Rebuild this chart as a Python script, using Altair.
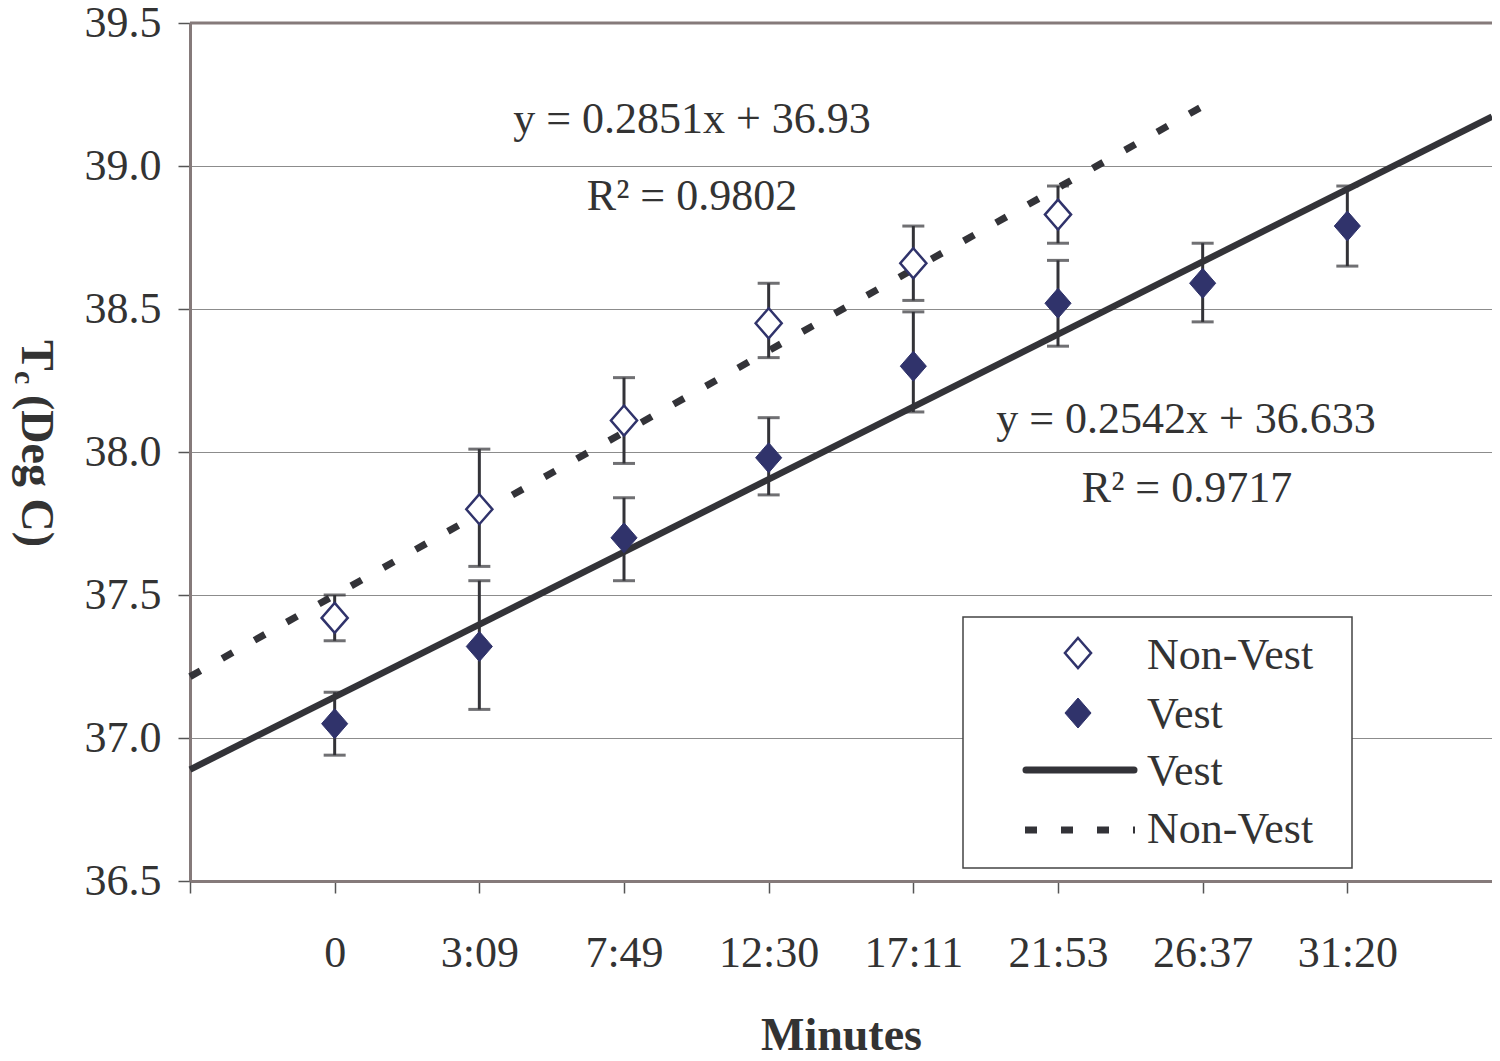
import json
import altair as alt
import pandas as pd

# ---- data ----
time_labels = ["0", "3:09", "7:49", "12:30", "17:11", "21:53", "26:37", "31:20"]

nonvest_mean = [37.42, 37.80, 38.11, 38.45, 38.66, 38.83]
nonvest_low = [37.34, 37.60, 37.96, 38.33, 38.53, 38.73]
nonvest_high = [37.50, 38.01, 38.26, 38.59, 38.79, 38.93]

vest_mean = [37.05, 37.32, 37.70, 37.98, 38.30, 38.52, 38.59, 38.79]
vest_low = [36.94, 37.10, 37.55, 37.85, 38.14, 38.37, 38.455, 38.65]
vest_high = [37.16, 37.55, 37.84, 38.12, 38.49, 38.67, 38.73, 38.93]

eq_nonvest = ["y = 0.2851x + 36.93", "R² = 0.9802"]
eq_vest = ["y = 0.2542x + 36.633", "R² = 0.9717"]

legend_labels = ["Non-Vest", "Vest", "Vest", "Non-Vest"]
y_ticks = [36.5, 37.0, 37.5, 38.0, 38.5, 39.0, 39.5]

# category axis: an empty first category, then the time labels
axis_labels = [""] + time_labels

nv = pd.DataFrame({
    "idx": list(range(2, 2 + len(nonvest_mean))),
    "time": time_labels[:len(nonvest_mean)],
    "mean": nonvest_mean, "low": nonvest_low, "high": nonvest_high,
})
vs = pd.DataFrame({
    "idx": list(range(2, 2 + len(vest_mean))),
    "time": time_labels[:len(vest_mean)],
    "mean": vest_mean, "low": vest_low, "high": vest_high,
})

W, H = 1302, 858
FONT = "Liberation Serif"
TXT = "#333333"
NAVY = "#30336b"
LINE = "#333338"
AXIS_COL = "#857a7a"

x_scale = alt.Scale(domain=[1, len(axis_labels) + 1], nice=False, zero=False)
y_scale = alt.Scale(domain=[36.5, 39.5], nice=False, zero=False)

x_axis = alt.Axis(
    values=list(range(1, len(axis_labels) + 1)),
    labelExpr=json.dumps(axis_labels) + "[datum.value - 1]",
    grid=False, tickSize=12, tickColor="#555555", tickWidth=1.5,
    domainColor=AXIS_COL, domainWidth=3,
    labelFont=FONT, labelFontSize=44, labelColor=TXT, labelPadding=38,
    labelFlush=False, labelOverlap=False,
    title="Minutes", titleFont=FONT, titleFontSize=46, titleFontWeight="bold",
    titleColor=TXT, titleY=168, titleBaseline="alphabetic",
)
y_axis = alt.Axis(
    values=y_ticks, format=".1f", grid=True, gridColor="#8c8c8c", gridWidth=1,
    tickSize=12, tickColor="#555555", tickWidth=1.5,
    domainColor=AXIS_COL, domainWidth=3,
    labelFont=FONT, labelFontSize=44, labelColor=TXT, labelPadding=17,
    labelFlush=False, labelOverlap=False, title=None,
)


def X(field="idx"):
    return alt.X(f"{field}:Q", scale=x_scale, axis=x_axis)


def Y(field):
    return alt.Y(f"{field}:Q", scale=y_scale, axis=y_axis)


one = pd.DataFrame({"k": [0]})

top_rule = alt.Chart(one).mark_rule(color=AXIS_COL, strokeWidth=3).encode(
    x=alt.value(0), x2=alt.value(W), y=alt.value(0))

layers = [top_rule]

# error bars
for df in (nv, vs):
    layers.append(alt.Chart(df).mark_rule(color=LINE, strokeWidth=3).encode(
        x=X(), y=Y("low"), y2="high"))
    for f in ("low", "high"):
        layers.append(alt.Chart(df).mark_tick(
            orient="horizontal", size=22, thickness=3, color=LINE).encode(
            x=X(), y=Y(f)))

# trend lines (linear regression computed by Vega-Lite)
nv_trend = alt.Chart(nv).transform_regression(
    "idx", "mean", extent=[1, int(nv["idx"].max()) + 1]
).mark_line(color=LINE, strokeWidth=7, strokeDash=[12, 25]).encode(
    x=X(), y=Y("mean"))
vs_trend = alt.Chart(vs).transform_regression(
    "idx", "mean", extent=[1, int(vs["idx"].max()) + 1]
).mark_line(color=LINE, strokeWidth=6.5).encode(x=X(), y=Y("mean"))
layers += [nv_trend, vs_trend]

DIAMOND = "M0,-1L0.87,0L0,1L-0.87,0Z"

nv_pts = alt.Chart(nv).mark_point(
    shape=DIAMOND, size=900, filled=True, fill="white", stroke=NAVY,
    strokeWidth=2.5, opacity=1).encode(x=X(), y=Y("mean"))
vs_pts = alt.Chart(vs).mark_point(
    shape=DIAMOND, size=900, filled=True, fill=NAVY, stroke=NAVY,
    strokeWidth=1, opacity=1).encode(x=X(), y=Y("mean"))
layers += [nv_pts, vs_pts]


def label(text, x, y, size=44, align="center", weight="normal", angle=0):
    return alt.Chart(one).mark_text(
        font=FONT, fontSize=size, color=TXT, align=align,
        baseline="alphabetic", fontWeight=weight, angle=angle).encode(
        x=alt.value(x), y=alt.value(y), text=alt.value(text))


# regression equations
layers += [
    label(eq_nonvest[0], 502, 110),
    label(eq_nonvest[1], 502, 187),
    label(eq_vest[0], 996, 410),
    label(eq_vest[1], 997, 479),
]

# legend box
legend_box = alt.Chart(one).mark_rect(
    fill="white", stroke="#444444", strokeWidth=1.5).encode(
    x=alt.value(773), x2=alt.value(1162), y=alt.value(594), y2=alt.value(845))
layers.append(legend_box)

leg_open = alt.Chart(one).mark_point(
    shape=DIAMOND, size=900, filled=True, fill="white", stroke=NAVY,
    strokeWidth=2.5, opacity=1).encode(x=alt.value(888), y=alt.value(630))
leg_fill = alt.Chart(one).mark_point(
    shape=DIAMOND, size=900, filled=True, fill=NAVY, stroke=NAVY,
    strokeWidth=1, opacity=1).encode(x=alt.value(888), y=alt.value(690))
leg_solid = alt.Chart(one).mark_rule(
    color=LINE, strokeWidth=7, strokeCap="round").encode(
    x=alt.value(836), x2=alt.value(944), y=alt.value(747))
leg_dash = alt.Chart(one).mark_rule(
    color=LINE, strokeWidth=7, strokeDash=[12, 24]).encode(
    x=alt.value(835), x2=alt.value(945), y=alt.value(807))
layers += [leg_open, leg_fill, leg_solid, leg_dash]

for txt, yy in zip(legend_labels, [646, 705, 762, 820]):
    layers.append(label(txt, 957, yy, align="left"))

# y-axis title "Tc (Deg C)" with subscript c, rotated
layers += [
    label("T", -168, 317, size=46, align="left", weight="bold", angle=90),
    label("c", -175, 348, size=30, align="left", weight="bold", angle=90),
    label("(Deg C)", -168, 372, size=46, align="left", weight="bold", angle=90),
]

chart = alt.layer(*layers).properties(
    width=W, height=H,
    autosize=alt.AutoSizeParams(type="none"),
    padding={"left": 182, "top": 15, "right": 0, "bottom": 170},
).configure_view(stroke=None).configure(background="white")

chart.save("out.html", embed_options={"renderer": "svg", "actions": False})
